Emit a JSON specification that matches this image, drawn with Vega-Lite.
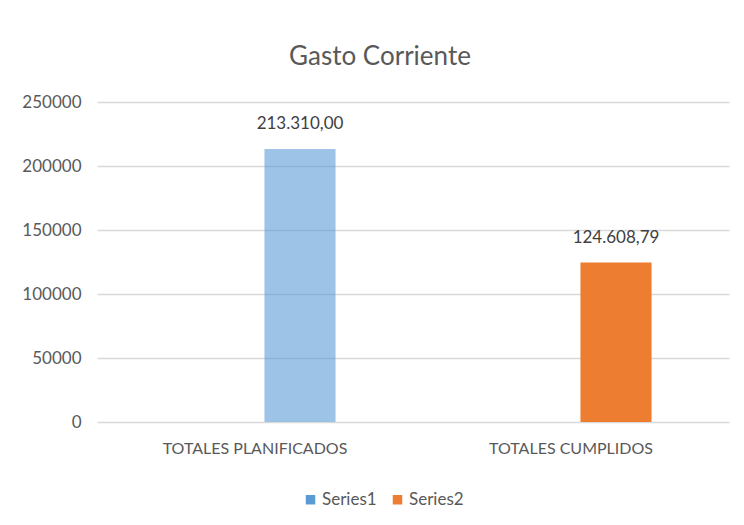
{
  "$schema": "https://vega.github.io/schema/vega-lite/v6.json",
  "autosize": {"type": "none"},
  "width": 632,
  "height": 320,
  "padding": {"left": 97, "top": 102, "right": 15, "bottom": 103},
  "background": "white",
  "config": {
    "font": "Lato, sans-serif",
    "view": {"stroke": null},
    "locale": {"number": {"decimal": ",", "thousands": ".", "grouping": [3], "currency": ["", ""]}}
  },
  "title": {
    "text": "Gasto Corriente",
    "fontSize": 26,
    "fontWeight": "normal",
    "color": "#595959",
    "anchor": "middle",
    "dx": -33,
    "offset": 23
  },
  "data": {
    "values": [
      {"category": "TOTALES PLANIFICADOS", "series": "Series1", "value": 213310.00},
      {"category": "TOTALES CUMPLIDOS", "series": "Series2", "value": 124608.79}
    ]
  },
  "encoding": {
    "x": {
      "field": "category",
      "type": "nominal",
      "sort": null,
      "scale": {"paddingInner": 0, "paddingOuter": 0},
      "axis": {
        "title": null,
        "labelAngle": 0,
        "labelLimit": 0,
        "domain": false,
        "ticks": false,
        "labelFontSize": 16,
        "labelColor": "#595959",
        "labelPadding": 18
      }
    },
    "y": {
      "field": "value",
      "type": "quantitative",
      "scale": {"domain": [0, 250000]},
      "axis": {
        "title": null,
        "values": [0, 50000, 100000, 150000, 200000, 250000],
        "format": "d",
        "domain": false,
        "ticks": false,
        "labelFontSize": 17,
        "labelColor": "#595959",
        "labelPadding": 16,
        "gridColor": "#D9D9D9",
        "gridWidth": 1.5
      }
    }
  },
  "layer": [
    {
      "mark": {"type": "bar", "width": {"band": 0.225}, "xOffset": 45},
      "encoding": {
        "color": {
          "field": "series",
          "type": "nominal",
          "scale": {"domain": ["Series1", "Series2"], "range": ["#5B9BD5", "#ED7D31"]},
          "legend": {
            "title": null,
            "orient": "none",
            "direction": "horizontal",
            "legendX": 205,
            "legendY": 389,
            "symbolType": "square",
            "symbolSize": 90,
            "symbolStrokeWidth": 0,
            "labelFontSize": 17,
            "labelColor": "#595959",
            "labelOffset": 3,
            "columnPadding": 12
          }
        },
        "fillOpacity": {
          "condition": {"test": "datum.series === 'Series1'", "value": 0.6},
          "value": 1
        }
      }
    },
    {
      "mark": {"type": "text", "xOffset": 45, "dy": -16, "baseline": "bottom", "fontSize": 17, "color": "#404040"},
      "encoding": {
        "text": {"field": "value", "type": "quantitative", "format": ",.2f"}
      }
    }
  ]
}
